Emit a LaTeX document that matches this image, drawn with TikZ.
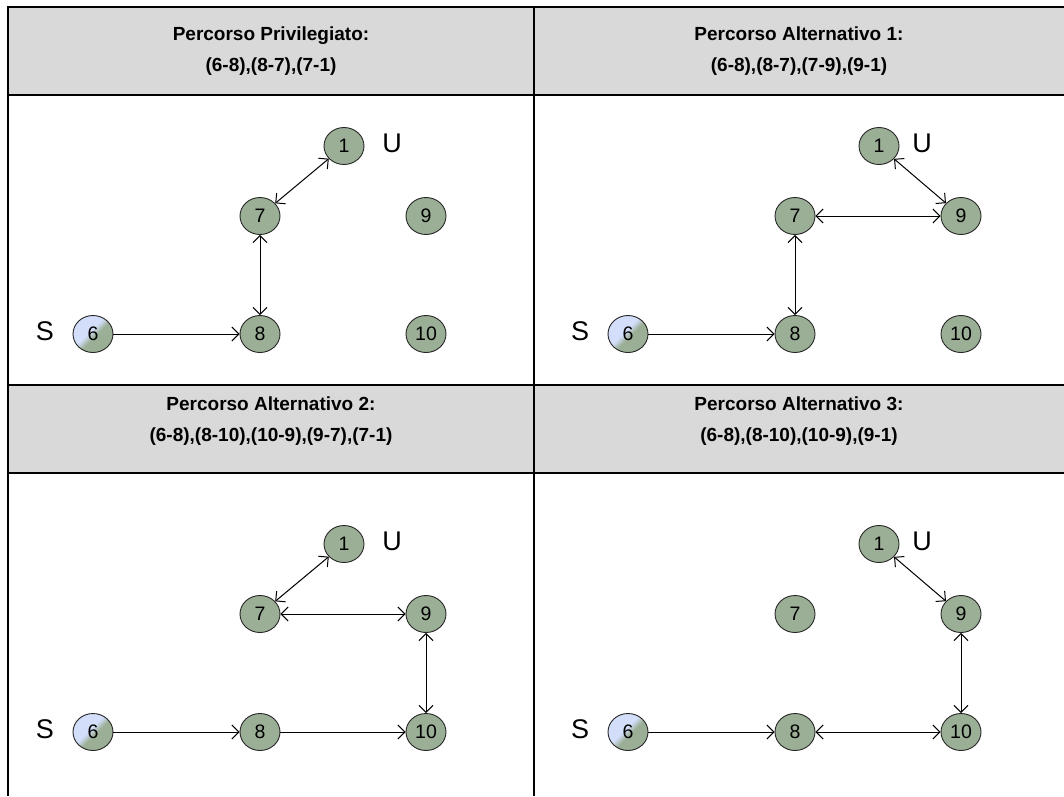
\documentclass[tikz,border=0pt]{standalone}
\usepackage{fontspec}
\setmainfont{Liberation Sans}
\usetikzlibrary{arrows.meta,shapes.geometric}

\definecolor{nodegreen}{RGB}{155,175,150}
\definecolor{srcblue}{RGB}{210,222,250}
\definecolor{headgray}{RGB}{217,217,217}

% diagonal two-tone fill of the source node
\pgfdeclareverticalshading{srcshade}{100bp}{%
  color(0bp)=(nodegreen); color(46bp)=(nodegreen);
  color(55bp)=(srcblue); color(100bp)=(srcblue)}

\tikzset{
  vertex/.style={ellipse, draw=black!85, line width=0.9pt, fill=nodegreen,
    minimum width=40pt, minimum height=37pt, inner sep=0pt,
    font=\fontsize{19.5}{19.5}\selectfont},
  source/.style={vertex, shading=srcshade, shading angle=45},
  tag/.style={font=\fontsize{27}{27}\selectfont, inner sep=0pt},
  oneway/.style={line width=1pt, -{Straight Barb[length=7pt,width=14pt]}},
  twoway/.style={line width=1pt, {Straight Barb[length=7pt,width=14pt]}-{Straight Barb[length=7pt,width=14pt]}},
  tablerule/.style={line width=2pt, black},
  headtext/.style={align=center, font=\bfseries\fontsize{19}{31}\selectfont}
}

% the six vertices of one network, placed relative to vertex 6
\newcommand\netnodes[1]{%
  \node[source] (n6) at (0,0) {6};
  \node[vertex] (n8) at (167,0) {8};
  \node[vertex] (n10) at (333,0) {10};
  \node[vertex] (n7) at (167,-118) {7};
  \node[vertex] (n9) at (333,-118) {9};
  \node[vertex] (n1) at (251,-188) {1};
  \node[tag] (lu) at (#1,-191) {U};
  \node[tag] (ls) at (-48,-3) {S};
}

\begin{document}
\begin{tikzpicture}[x=1pt,y=-1pt]
\useasboundingbox (0,0) rectangle (1064,796);

% table: header bands and rules
\fill[headgray] (8,7) rectangle (1064,95);
\fill[headgray] (8,385) rectangle (1064,473);
\draw[tablerule] (1064,7) -- (7,7);
\draw[tablerule] (8,6) -- (8,796);
\draw[tablerule] (534,6) -- (534,796);
\draw[tablerule] (7,95) -- (1064,95);
\draw[tablerule] (7,385) -- (1064,385);
\draw[tablerule] (7,473) -- (1064,473);

% headers
\node[headtext] (h1) at (271,51) {Percorso Privilegiato:\\(6-8),(8-7),(7-1)};
\node[headtext] (h2) at (799,51) {Percorso Alternativo 1:\\(6-8),(8-7),(7-9),(9-1)};
\node[headtext] (h3) at (271,421) {Percorso Alternativo 2:\\(6-8),(8-10),(10-9),(9-7),(7-1)};
\node[headtext] (h4) at (799,421) {Percorso Alternativo 3:\\(6-8),(8-10),(10-9),(9-1)};

% preferred path
\begin{scope}[shift={(93,334)}, name prefix=a-]
  \netnodes{299}
  \draw[oneway] (a-n6) -- (a-n8);
  \draw[twoway] (a-n8) -- (a-n7);
  \draw[twoway] (a-n7) -- (a-n1);
\end{scope}

% alternative 1
\begin{scope}[shift={(628,334)}, name prefix=b-]
  \netnodes{294}
  \draw[oneway] (b-n6) -- (b-n8);
  \draw[twoway] (b-n8) -- (b-n7);
  \draw[twoway] (b-n7) -- (b-n9);
  \draw[twoway] (b-n9) -- (b-n1);
\end{scope}

% alternative 2
\begin{scope}[shift={(93,732)}, name prefix=c-]
  \netnodes{299}
  \draw[oneway] (c-n6) -- (c-n8);
  \draw[oneway] (c-n8) -- (c-n10);
  \draw[twoway] (c-n10) -- (c-n9);
  \draw[twoway] (c-n9) -- (c-n7);
  \draw[twoway] (c-n7) -- (c-n1);
\end{scope}

% alternative 3
\begin{scope}[shift={(628,732)}, name prefix=d-]
  \netnodes{294}
  \draw[oneway] (d-n6) -- (d-n8);
  \draw[twoway] (d-n8) -- (d-n10);
  \draw[twoway] (d-n10) -- (d-n9);
  \draw[twoway] (d-n9) -- (d-n1);
\end{scope}
\end{tikzpicture}
\end{document}
